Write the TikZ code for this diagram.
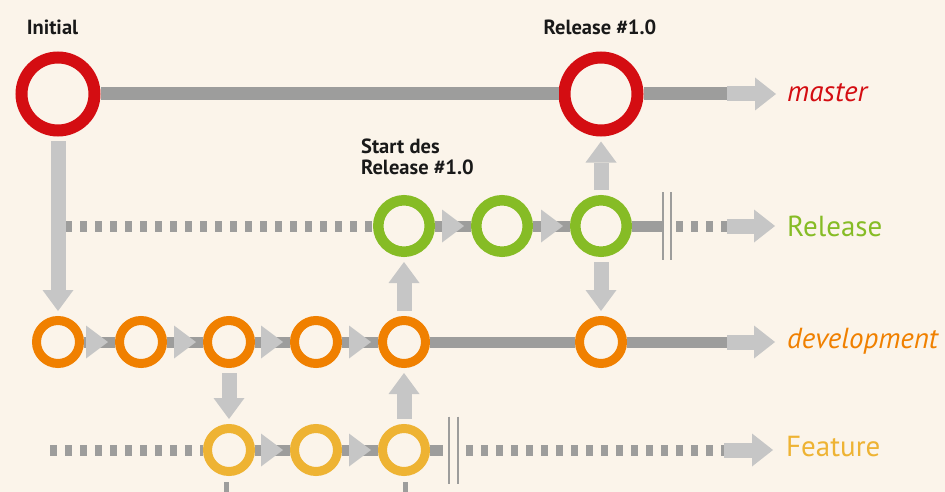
\documentclass[tikz,border=0pt]{standalone}
\usepackage{fontspec}
\setmainfont{PT Sans}
\usetikzlibrary{arrows.meta,decorations.markings}

\definecolor{paper}{HTML}{FBF4EA}
\definecolor{masterred}{HTML}{D40D12}
\definecolor{releasegreen}{HTML}{86BC25}
\definecolor{devorange}{HTML}{F08000}
\definecolor{featureyellow}{HTML}{EEB333}
\definecolor{linegray}{HTML}{9D9D9C}
\definecolor{arrowgray}{HTML}{C6C6C6}

\begin{document}
\begin{tikzpicture}[x=1pt, y=-1pt,
	ring/.style={circle, draw, fill=paper, inner sep=0pt},
	big/.style={ring, line width=12pt, minimum size=73pt},
	mid/.style={ring, line width=10.5pt, minimum size=51.5pt},
	small/.style={ring, line width=9pt, minimum size=43pt},
	trunk/.style={draw=linegray, line width=11pt},
	stale/.style={trunk, dash pattern=on 7pt off 8pt},
	flow/.style={trunk, postaction={decorate, decoration={markings,
		mark=at position -7pt with {\arrow{Triangle[length=22pt, width=33pt, line width=0pt, color=arrowgray]}}}}},
	merge/.style={draw=arrowgray, line width=15pt, -{Triangle[length=21pt, width=31pt, line width=0pt]}, shorten <=5pt, shorten >=5pt},
	head/.style={draw=arrowgray, line width=15pt, -{Triangle[length=21pt, width=33pt, line width=0pt]}},
	bar/.style={draw=linegray, line width=2.5pt},
	tag/.style={font=\bfseries\fontsize{20.5}{21}\selectfont, text=black!90, inner sep=0pt},
	branch/.style={font=\fontsize{29}{29}\selectfont, anchor=base west, inner sep=0pt}]
	\fill[paper] (0,0) rectangle (945,492);
	\useasboundingbox (0,0) rectangle (945,492);

	\node[big, draw=masterred] (m1) at (58,94) {};
	\node[big, draw=masterred] (m2) at (601,94) {};

	\node[mid, draw=releasegreen] (r1) at (404,226) {};
	\node[mid, draw=releasegreen] (r2) at (502,226) {};
	\node[mid, draw=releasegreen] (r3) at (601,226) {};

	\node[small, draw=devorange] (d1) at (58,342) {};
	\node[small, draw=devorange] (d2) at (141,342) {};
	\node[small, draw=devorange] (d3) at (229,342) {};
	\node[small, draw=devorange] (d4) at (316,342) {};
	\node[small, draw=devorange] (d5) at (404,342) {};
	\node[small, draw=devorange] (d6) at (601,342) {};

	\node[small, draw=featureyellow] (f1) at (229,450) {};
	\node[small, draw=featureyellow] (f2) at (316,450) {};
	\node[small, draw=featureyellow] (f3) at (404,450) {};

	\coordinate (mtip) at (776,94);
	\coordinate (rstart) at (65,226);
	\coordinate (rcut) at (667,226);
	\coordinate (rtip) at (775,226);
	\coordinate (dtip) at (775,342);
	\coordinate (fstart) at (50,450);
	\coordinate (fcut) at (453.5,450);
	\coordinate (ftip) at (773,450);
	\coordinate (f1in) at (226.5,482);
	\coordinate (f1out) at (226.5,492);
	\coordinate (f3in) at (405.5,482);
	\coordinate (f3out) at (405.5,492);

	\draw[trunk, line width=13pt] (m1) -- (m2);
	\draw[trunk, line width=13pt] (m2) -- ([xshift=-49pt]mtip);
	\draw[head] ([xshift=-49pt]mtip) -- (mtip);

	\draw[stale] (rstart) -- (r1);
	\draw[flow] (r1) -- (r2);
	\draw[flow] (r2) -- (r3);
	\draw[trunk] (r3) -- ([xshift=-4pt]rcut);
	\draw[bar] ([xshift=-4pt, yshift=34pt]rcut) -- ([xshift=-4pt, yshift=-34pt]rcut);
	\draw[bar] ([xshift=4pt, yshift=34pt]rcut) -- ([xshift=4pt, yshift=-34pt]rcut);
	\draw[stale] ([xshift=9pt]rcut) -- ([xshift=-48pt]rtip);
	\draw[head] ([xshift=-48pt]rtip) -- (rtip);

	\draw[flow] (d1) -- (d2);
	\draw[flow] (d2) -- (d3);
	\draw[flow] (d3) -- (d4);
	\draw[flow] (d4) -- (d5);
	\draw[trunk] (d5) -- (d6);
	\draw[trunk] (d6) -- ([xshift=-48pt]dtip);
	\draw[head] ([xshift=-48pt]dtip) -- (dtip);

	\draw[stale] (fstart) -- (f1);
	\draw[flow] (f1) -- (f2);
	\draw[flow] (f2) -- (f3);
	\draw[trunk] (f3) -- ([xshift=-10.5pt]fcut);
	\draw[bar] ([xshift=-4.5pt, yshift=33.5pt]fcut) -- ([xshift=-4.5pt, yshift=-33.5pt]fcut);
	\draw[bar] ([xshift=4.5pt, yshift=33.5pt]fcut) -- ([xshift=4.5pt, yshift=-33.5pt]fcut);
	\draw[stale] ([xshift=12.5pt]fcut) -- ([xshift=-49pt]ftip);
	\draw[head] ([xshift=-49pt]ftip) -- (ftip);
	\draw[linegray, line width=5pt] (f1in) -- (f1out);
	\draw[linegray, line width=5pt] (f3in) -- (f3out);

	\draw[merge] (m1) -- (d1);
	\draw[merge] (d3) -- (f1);
	\draw[merge] (f3) -- (d5);
	\draw[merge] (d5) -- (r1);
	\draw[merge] (r3) -- (d6);
	\draw[merge] (r3) -- (m2);

	\node[tag, anchor=base] (initial) at (52.5,35) {Initial};
	\node[tag, anchor=base] (tagged) at (600,35) {Release \#1.0};
	\node[tag, anchor=north west, align=left] (start) at (361,139) {Start des\\Release \#1.0};

	\node[branch, text=masterred] (master) at (787,102) {\itshape master};
	\node[branch, text=releasegreen] (release) at (787,236) {Release};
	\node[branch, text=devorange] (development) at (787,348) {\itshape development};
	\node[branch, text=featureyellow] (feature) at (786,456) {Feature};
\end{tikzpicture}
\end{document}
